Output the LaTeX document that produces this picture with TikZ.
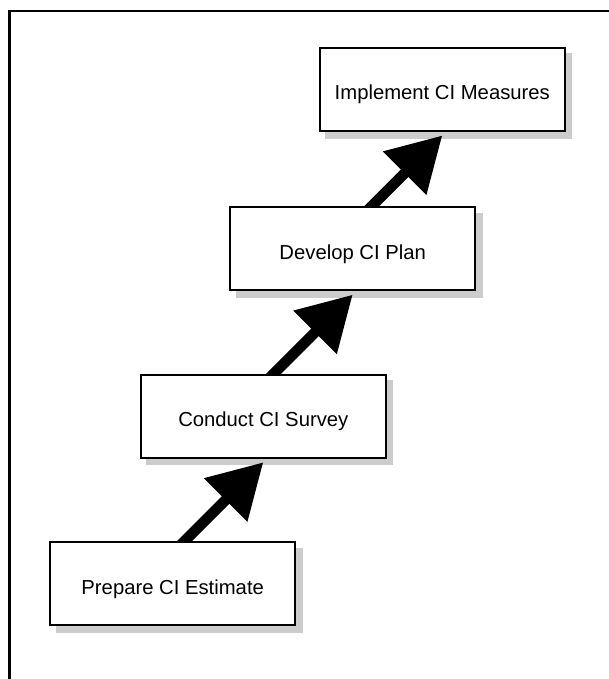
\documentclass[tikz,border=0pt]{standalone}
\usepackage{fontspec}
\setmainfont{Liberation Sans}
\usetikzlibrary{arrows.meta,calc}
\pgfdeclarelayer{shadowlayer}
\pgfdeclarelayer{arrowlayer}
\pgfsetlayers{shadowlayer,arrowlayer,main}
\begin{document}
\begin{tikzpicture}[x=0.75pt,y=-0.75pt,
  stepbox/.style={draw=black, line width=1.5pt, fill=white,
    minimum width=183.5pt, minimum height=62.5pt, inner sep=0pt,
    text height=15.5pt, text depth=0pt,
    font=\fontsize{15.2}{18}\selectfont},
  boxshadow/.style={fill=black!20},
  bigarrow/.style={line width=8pt, -{Triangle[width=44pt,length=40pt]}},
  frameline/.style={line width=1.7pt, line cap=rect}]
  \useasboundingbox (0,0) rectangle (609,679);

  % outer frame (left and top sides inside the page)
  \draw[frameline] (9.5,690) -- (9.5,11) -- (620,11);

  % the four steps
  \node[stepbox] (b1) at (172.7,583.7) {Prepare CI Estimate};
  \node[stepbox] (b2) at (263.3,416.3) {Conduct CI Survey};
  \node[stepbox] (b3) at (352.7,248.7) {Develop CI Plan};
  \node[stepbox] (b4) at (442.3,89.5) {Implement CI Measures};

  % drop shadows behind the boxes
  \begin{pgfonlayer}{shadowlayer}
    \foreach \b in {b1,b2,b3,b4}
      \fill[boxshadow] ([shift={(6.5,6.5)}]\b.south west) rectangle ([shift={(6.5,6.5)}]\b.north east);
  \end{pgfonlayer}

  % 45-degree arrows from each box up to the next one
  \begin{pgfonlayer}{arrowlayer}
    \foreach \lo/\hi in {b1/b2,b2/b3,b3/b4}
      \draw[bigarrow] let \p1=(\lo.north), \p2=([yshift=-2.5pt]\hi.south), \n1={\y2-\y1}
        in (\x2-\n1-8pt,\y1-8pt) -- (\p2);
  \end{pgfonlayer}
\end{tikzpicture}
\end{document}
